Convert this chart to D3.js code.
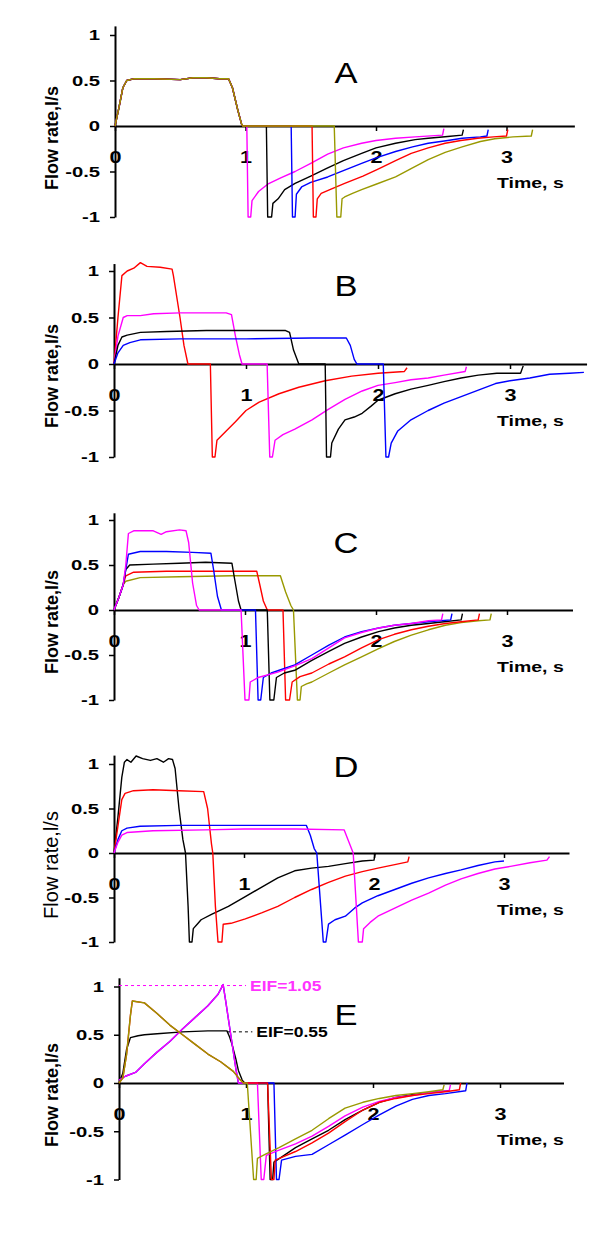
<!DOCTYPE html>
<html>
<head>
<meta charset="utf-8">
<script src="https://cdn.jsdelivr.net/npm/d3@7"></script>
<style>
body { margin: 0; background: #fff; }
svg { display: block; }
</style>
</head>
<body>
<script>

// ---- data (time s, flow l/s) ----
var xTicks = [0, 1, 2, 3];
var yTicks = [-1, -0.5, 0, 0.5, 1];

// panel A: same inspiration for every trace, different pause lengths
var insA = [[0,0],[0.03,0.2],[0.06,0.42],[0.09,0.5],[0.15,0.52],[0.3,0.52],[0.5,0.51],[0.6,0.53],[0.7,0.53],[0.8,0.52],[0.87,0.52],[0.9,0.42],[0.94,0.18],[0.97,0.02],[0.98,0]];
var expA_magenta = [[1.01,0],[1.02,-1],[1.04,-1],[1.05,-0.82],[1.1,-0.72],[1.17,-0.64],[1.27,-0.57],[1.38,-0.5],[1.5,-0.41],[1.63,-0.31],[1.75,-0.24],[1.89,-0.19],[2.0,-0.16],[2.15,-0.135],[2.3,-0.12],[2.51,-0.1],[2.52,-0.03]];
var expA_black = [[1.16,0],[1.17,-1],[1.2,-1],[1.21,-0.85],[1.25,-0.8],[1.3,-0.7],[1.38,-0.63],[1.5,-0.55],[1.63,-0.46],[1.75,-0.38],[1.89,-0.3],[2.0,-0.24],[2.15,-0.19],[2.3,-0.15],[2.4,-0.135],[2.55,-0.115],[2.66,-0.1],[2.67,-0.04]];
var expA_blue = [[1.35,0],[1.36,-1],[1.38,-1],[1.39,-0.75],[1.43,-0.67],[1.5,-0.62],[1.63,-0.56],[1.75,-0.49],[1.89,-0.41],[2.0,-0.35],[2.15,-0.28],[2.28,-0.23],[2.4,-0.19],[2.55,-0.16],[2.66,-0.135],[2.8,-0.12],[2.85,-0.11],[2.86,-0.04]];
var expA_red = [[1.51,0],[1.52,-1],[1.54,-1],[1.55,-0.8],[1.58,-0.74],[1.66,-0.69],[1.76,-0.63],[1.9,-0.55],[2.02,-0.47],[2.15,-0.38],[2.27,-0.3],[2.4,-0.24],[2.53,-0.19],[2.65,-0.16],[2.78,-0.135],[2.9,-0.12],[3.0,-0.11],[3.01,-0.04]];
var expA_olive = [[1.68,0],[1.7,-1],[1.73,-1],[1.74,-0.8],[1.76,-0.78],[1.82,-0.74],[1.89,-0.7],[2.0,-0.64],[2.15,-0.56],[2.28,-0.46],[2.4,-0.37],[2.53,-0.29],[2.66,-0.23],[2.8,-0.17],[2.91,-0.14],[3.05,-0.12],[3.19,-0.11],[3.2,-0.04]];

// panel B
var B_red = [[0,0],[0.03,0.5],[0.06,0.95],[0.1,1.0],[0.15,1.03],[0.2,1.09],[0.25,1.05],[0.35,1.04],[0.44,1.02],[0.45,0.95],[0.5,0.5],[0.53,0.2],[0.56,0],[0.73,0],[0.745,-1],[0.765,-1],[0.78,-0.82],[0.85,-0.72],[0.92,-0.62],[1.0,-0.5],[1.1,-0.41],[1.25,-0.32],[1.4,-0.25],[1.6,-0.18],[1.8,-0.13],[2.0,-0.1],[2.2,-0.08],[2.22,-0.04]];
var B_magenta = [[0,0],[0.03,0.3],[0.07,0.5],[0.1,0.52],[0.2,0.52],[0.3,0.54],[0.5,0.55],[0.7,0.55],[0.85,0.55],[0.89,0.53],[0.92,0.3],[0.95,0.1],[0.97,0],[1.16,0],[1.18,-1],[1.2,-1],[1.22,-0.82],[1.28,-0.76],[1.37,-0.7],[1.5,-0.6],[1.62,-0.49],[1.75,-0.38],[1.88,-0.29],[2.0,-0.23],[2.13,-0.2],[2.25,-0.17],[2.38,-0.15],[2.5,-0.12],[2.66,-0.08],[2.67,-0.03]];
var B_black = [[0,0],[0.03,0.2],[0.06,0.29],[0.1,0.31],[0.2,0.34],[0.4,0.35],[0.7,0.36],[1.0,0.36],[1.3,0.36],[1.33,0.34],[1.36,0.15],[1.4,0],[1.6,0],[1.61,-1],[1.64,-1],[1.65,-0.85],[1.7,-0.7],[1.75,-0.6],[1.82,-0.57],[1.88,-0.53],[1.95,-0.45],[2.0,-0.39],[2.13,-0.32],[2.25,-0.27],[2.38,-0.23],[2.5,-0.19],[2.63,-0.15],[2.76,-0.12],[2.9,-0.1],[3.08,-0.1],[3.1,-0.02]];
var B_blue = [[0,0],[0.03,0.12],[0.07,0.2],[0.12,0.23],[0.2,0.26],[0.5,0.27],[1.0,0.27],[1.5,0.28],[1.76,0.28],[1.79,0.2],[1.82,0.05],[1.84,0],[2.04,0],[2.06,-1],[2.08,-1],[2.1,-0.85],[2.15,-0.72],[2.25,-0.6],[2.38,-0.5],[2.5,-0.42],[2.63,-0.35],[2.76,-0.28],[2.89,-0.21],[3.0,-0.18],[3.15,-0.15],[3.3,-0.11],[3.45,-0.1],[3.56,-0.09]];

// panel C
var C_magenta = [[0,0],[0.04,0.15],[0.07,0.28],[0.09,0.5],[0.11,0.85],[0.15,0.88],[0.3,0.88],[0.36,0.84],[0.4,0.87],[0.5,0.89],[0.55,0.88],[0.57,0.75],[0.6,0.3],[0.63,0.05],[0.65,0],[0.97,0],[1.0,-1],[1.03,-1],[1.04,-0.8],[1.1,-0.75],[1.25,-0.69],[1.38,-0.62],[1.51,-0.54],[1.64,-0.42],[1.76,-0.31],[1.89,-0.25],[2.02,-0.2],[2.14,-0.17],[2.27,-0.15],[2.4,-0.12],[2.5,-0.11],[2.51,-0.04]];
var C_blue = [[0,0],[0.04,0.15],[0.07,0.28],[0.09,0.45],[0.11,0.62],[0.2,0.65],[0.4,0.65],[0.6,0.64],[0.74,0.63],[0.76,0.45],[0.79,0.15],[0.82,0],[1.08,0],[1.1,-1],[1.12,-1],[1.14,-0.75],[1.2,-0.7],[1.3,-0.65],[1.38,-0.61],[1.51,-0.5],[1.64,-0.39],[1.76,-0.3],[1.89,-0.24],[2.02,-0.2],[2.14,-0.17],[2.27,-0.15],[2.4,-0.13],[2.57,-0.11],[2.58,-0.04]];
var C_black = [[0,0],[0.04,0.15],[0.07,0.28],[0.09,0.45],[0.12,0.5],[0.3,0.51],[0.5,0.52],[0.7,0.53],[0.9,0.52],[0.92,0.35],[0.95,0.1],[0.97,0],[1.17,0],[1.19,-1],[1.22,-1],[1.24,-0.75],[1.3,-0.7],[1.38,-0.67],[1.51,-0.56],[1.64,-0.46],[1.76,-0.37],[1.89,-0.3],[2.02,-0.24],[2.14,-0.2],[2.27,-0.17],[2.4,-0.15],[2.52,-0.13],[2.65,-0.11],[2.66,-0.04]];
var C_red = [[0,0],[0.04,0.15],[0.07,0.28],[0.09,0.38],[0.15,0.42],[0.4,0.43],[0.7,0.43],[1.09,0.43],[1.11,0.3],[1.14,0.1],[1.17,0],[1.29,0],[1.31,-1],[1.34,-1],[1.36,-0.8],[1.42,-0.74],[1.51,-0.7],[1.64,-0.6],[1.76,-0.52],[1.89,-0.42],[2.02,-0.33],[2.14,-0.27],[2.27,-0.22],[2.4,-0.18],[2.53,-0.15],[2.65,-0.13],[2.78,-0.11],[2.79,-0.04]];
var C_olive = [[0,0],[0.04,0.15],[0.07,0.28],[0.09,0.32],[0.2,0.36],[0.5,0.37],[0.9,0.38],[1.27,0.38],[1.31,0.2],[1.35,0.05],[1.37,0],[1.4,-1],[1.42,-1],[1.43,-0.85],[1.47,-0.82],[1.51,-0.8],[1.64,-0.7],[1.76,-0.61],[1.89,-0.52],[2.02,-0.43],[2.14,-0.35],[2.27,-0.28],[2.4,-0.22],[2.53,-0.17],[2.65,-0.14],[2.78,-0.12],[2.87,-0.11],[2.88,-0.04]];

// panel D
var D_black = [[0,0],[0.03,0.4],[0.06,0.85],[0.08,1.02],[0.1,1.05],[0.13,1.02],[0.17,1.09],[0.22,1.06],[0.28,1.04],[0.33,1.06],[0.38,1.02],[0.42,1.06],[0.45,1.05],[0.47,0.95],[0.5,0.5],[0.53,0.15],[0.55,0],[0.57,-0.6],[0.58,-1],[0.6,-1],[0.61,-0.85],[0.64,-0.8],[0.67,-0.75],[0.75,-0.69],[0.88,-0.6],[1.01,-0.49],[1.14,-0.38],[1.26,-0.28],[1.39,-0.2],[1.52,-0.17],[1.65,-0.15],[1.78,-0.12],[1.91,-0.09],[2.0,-0.08],[2.01,0]];
var D_red = [[0,0],[0.03,0.3],[0.06,0.6],[0.085,0.67],[0.15,0.7],[0.3,0.71],[0.5,0.7],[0.69,0.69],[0.72,0.5],[0.75,0.1],[0.76,0],[0.78,-0.6],[0.8,-1],[0.83,-1],[0.84,-0.8],[0.9,-0.79],[1.01,-0.74],[1.14,-0.67],[1.26,-0.6],[1.39,-0.5],[1.52,-0.41],[1.65,-0.33],[1.78,-0.26],[1.91,-0.21],[2.03,-0.17],[2.16,-0.13],[2.26,-0.1],[2.27,-0.04]];
var D_blue = [[0,0],[0.03,0.15],[0.06,0.25],[0.1,0.28],[0.2,0.3],[0.5,0.31],[1.0,0.31],[1.48,0.31],[1.51,0.2],[1.54,0.05],[1.56,0],[1.59,-0.6],[1.61,-1],[1.63,-1],[1.65,-0.8],[1.7,-0.75],[1.78,-0.71],[1.85,-0.62],[1.91,-0.56],[2.03,-0.48],[2.16,-0.41],[2.29,-0.34],[2.42,-0.28],[2.55,-0.23],[2.67,-0.19],[2.8,-0.14],[2.93,-0.1],[3.0,-0.09]];
var D_magenta = [[0,0],[0.03,0.12],[0.06,0.2],[0.1,0.23],[0.3,0.25],[0.7,0.26],[1.0,0.27],[1.4,0.27],[1.77,0.26],[1.8,0.15],[1.84,0],[1.86,-0.5],[1.88,-1],[1.91,-1],[1.92,-0.85],[1.97,-0.78],[2.03,-0.71],[2.16,-0.62],[2.29,-0.53],[2.42,-0.45],[2.55,-0.36],[2.67,-0.29],[2.8,-0.23],[2.93,-0.18],[3.05,-0.15],[3.2,-0.11],[3.33,-0.08],[3.35,-0.04]];

// panel E: decelerating ramp (olive, red) and accelerating ramp (magenta, blue)
var rampDown = [[0,0],[0.03,0.05],[0.06,0.3],[0.09,0.7],[0.105,0.85],[0.2,0.83],[0.3,0.72],[0.4,0.6],[0.49,0.51],[0.6,0.4],[0.7,0.3],[0.8,0.22],[0.9,0.12],[0.95,0.04],[0.98,0]];
var rampUp = [[0,0.03],[0.05,0.07],[0.13,0.11],[0.2,0.2],[0.3,0.32],[0.4,0.43],[0.5,0.56],[0.6,0.68],[0.7,0.8],[0.78,0.92],[0.82,1.02],[0.84,0.85],[0.88,0.5],[0.92,0.15],[0.94,0]];
var expE_olive = [[1.01,0],[1.06,-1],[1.08,-1],[1.09,-0.78],[1.15,-0.74],[1.26,-0.67],[1.39,-0.58],[1.52,-0.49],[1.65,-0.37],[1.78,-0.26],[1.92,-0.2],[2.05,-0.16],[2.18,-0.13],[2.31,-0.11],[2.44,-0.09],[2.55,-0.07],[2.56,-0.02]];
var expE_red = [[1.17,0],[1.2,-1],[1.22,-1],[1.23,-0.8],[1.3,-0.76],[1.39,-0.71],[1.52,-0.62],[1.65,-0.52],[1.78,-0.4],[1.92,-0.28],[2.05,-0.2],[2.18,-0.16],[2.31,-0.13],[2.44,-0.11],[2.57,-0.09],[2.68,-0.07],[2.69,0]];
var expE_magenta = [[1.09,0],[1.12,-1],[1.14,-1],[1.16,-0.75],[1.25,-0.7],[1.39,-0.63],[1.52,-0.55],[1.65,-0.45],[1.78,-0.34],[1.92,-0.25],[2.05,-0.19],[2.18,-0.15],[2.31,-0.13],[2.44,-0.1],[2.6,-0.08],[2.61,-0.02]];
var expE_blue = [[1.22,0],[1.24,-1],[1.26,-1],[1.28,-0.8],[1.39,-0.76],[1.52,-0.74],[1.65,-0.64],[1.78,-0.54],[1.92,-0.43],[2.05,-0.33],[2.18,-0.24],[2.31,-0.17],[2.44,-0.13],[2.57,-0.11],[2.73,-0.08],[2.74,0]];
var E_black = [[0,0],[0.03,0.1],[0.06,0.35],[0.09,0.47],[0.15,0.49],[0.2,0.5],[0.3,0.51],[0.5,0.53],[0.7,0.54],[0.85,0.54],[0.87,0.48],[0.89,0.4],[0.92,0.25],[0.94,0.13],[0.97,0.03],[0.99,0],[1.17,0],[1.19,-1],[1.21,-1],[1.22,-0.82],[1.3,-0.75],[1.39,-0.67],[1.52,-0.58],[1.65,-0.49],[1.78,-0.38],[1.92,-0.28],[2.05,-0.2],[2.18,-0.15],[2.31,-0.12],[2.44,-0.1],[2.6,-0.08]];
var eifValues = [1.05, 0.55];
var eifLevels = [1.01, 0.53];

var colors = {
	magenta: "#ff00ff",
	black: "#000000",
	blue: "#0000ff",
	red: "#ff0000",
	olive: "#999900"
};

var font = "'Liberation Sans', Arial, sans-serif";

var panels = [
	{ letter: "A", x0: 115, unit: 130.5, tEnd: 3.52, y0: 126, k: 91, vTop: 1.1, letterY: 83, boldLabel: true,
		series: [["magenta", insA.concat(expA_magenta)], ["black", insA.concat(expA_black)], ["blue", insA.concat(expA_blue)], ["red", insA.concat(expA_red)], ["olive", insA.concat(expA_olive)]] },
	{ letter: "B", x0: 114, unit: 132, tEnd: 3.58, y0: 364, k: 93, vTop: 1.08, letterY: 296, boldLabel: true,
		series: [["red", B_red], ["magenta", B_magenta], ["black", B_black], ["blue", B_blue]] },
	{ letter: "C", x0: 114, unit: 131, tEnd: 3.5, y0: 610, k: 90, vTop: 1.08, letterY: 553, boldLabel: true,
		series: [["olive", C_olive], ["red", C_red], ["black", C_black], ["blue", C_blue], ["magenta", C_magenta]] },
	{ letter: "D", x0: 114, unit: 130, tEnd: 3.5, y0: 853, k: 89, vTop: 1.1, letterY: 777, boldLabel: false,
		series: [["black", D_black], ["red", D_red], ["blue", D_blue], ["magenta", D_magenta]] },
	{ letter: "E", x0: 119, unit: 127, tEnd: 3.5, y0: 1083, k: 96.5, vTop: 1.09, letterY: 1025, boldLabel: true,
		series: [["black", E_black], ["blue", rampUp.concat(expE_blue)], ["magenta", rampUp.concat(expE_magenta)], ["red", rampDown.concat(expE_red)], ["olive", rampDown.concat(expE_olive)]] }
];

var svg = d3.select("body").append("svg")
	.attr("width", 600)
	.attr("height", 1253)
	.style("font-family", font);

var stretch = 1.35;

panels.forEach(p => {
	var g = svg.append("g").attr("class", "panel");

	var x = d3.scaleLinear()
		.domain([0, p.tEnd])
		.range([p.x0, p.x0 + p.tEnd*p.unit]);
	var y = d3.scaleLinear()
		.domain([-1, p.vTop])
		.range([p.y0 + p.k, p.y0 - p.vTop*p.k]);

	// y axis
	var yAxis = g.append("g")
		.attr("transform", "translate(" + p.x0 + ",0)")
		.call(d3.axisLeft(y).tickValues(yTicks).tickSize(5).tickSizeOuter(0).tickFormat(d => String(d)));
	yAxis.select(".domain").attr("stroke-width", 2);
	yAxis.selectAll(".tick line").attr("stroke-width", 1.5);
	yAxis.selectAll(".tick text")
		.attr("x", -15/stretch)
		.attr("transform", "scale(" + stretch + ",1)")
		.style("font-size", "15px")
		.style("font-weight", "bold")
		.style("font-family", font)
		.attr("fill", "#000");

	// x axis at zero flow
	var xAxis = g.append("g")
		.attr("transform", "translate(0," + y(0) + ")")
		.call(d3.axisBottom(x).tickValues(xTicks).tickSize(5).tickSizeOuter(0).tickFormat(d => String(d)));
	xAxis.select(".domain").attr("stroke-width", 2);
	xAxis.selectAll(".tick line").attr("stroke-width", 1.5);
	xAxis.selectAll(".tick text")
		.attr("y", 26)
		.attr("transform", "scale(" + stretch + ",1)")
		.style("font-size", "16px")
		.style("font-weight", "bold")
		.style("font-family", font)
		.attr("fill", "#000");

	g.append("text")
		.attr("transform", "translate(497," + (p.y0 + 62) + ") scale(1.3,1)")
		.style("font-size", "15px")
		.style("font-weight", "bold")
		.text("Time, s");

	g.append("text")
		.attr("transform", "translate(58," + (p.y0 + 12) + ") rotate(-90)")
		.attr("text-anchor", "middle")
		.style("font-size", p.boldLabel ? "18px" : "20px")
		.style("font-weight", p.boldLabel ? "bold" : "normal")
		.text("Flow rate,l/s");

	g.append("text")
		.attr("transform", "translate(346," + p.letterY + ") scale(1.15,1)")
		.attr("text-anchor", "middle")
		.style("font-size", "30px")
		.text(p.letter);

	var line = d3.line()
		.x(d => x(d[0]))
		.y(d => y(d[1]));

	g.selectAll("path.trace")
		.data(p.series)
		.enter().append("path")
		.attr("class", "trace")
		.attr("fill", "none")
		.attr("stroke", d => colors[d[0]])
		.attr("stroke-width", 1.4)
		.attr("stroke-linejoin", "round")
		.attr("d", d => line(d[1]));

	if (p.letter == "E") {
		var eifColors = [colors.magenta, colors.black];
		var eifStart = [0, 0.85];
		var eifEnd = [1.0, 1.05];
		eifLevels.forEach((v, i) => {
			g.append("line")
				.attr("x1", x(eifStart[i]))
				.attr("x2", x(eifEnd[i]))
				.attr("y1", y(v))
				.attr("y2", y(v))
				.attr("stroke", eifColors[i])
				.attr("stroke-width", 1)
				.attr("stroke-dasharray", "3,3");
			g.append("text")
				.attr("transform", "translate(" + (x(eifEnd[i]) + 4) + "," + (y(v) + 5) + ") scale(1.25,1)")
				.style("font-size", "14px")
				.style("font-weight", "bold")
				.attr("fill", i == 0 ? "#ff33ff" : "#000")
				.text("EIF=" + eifValues[i].toFixed(2));
		});
	}
});

</script>
</body>
</html>
